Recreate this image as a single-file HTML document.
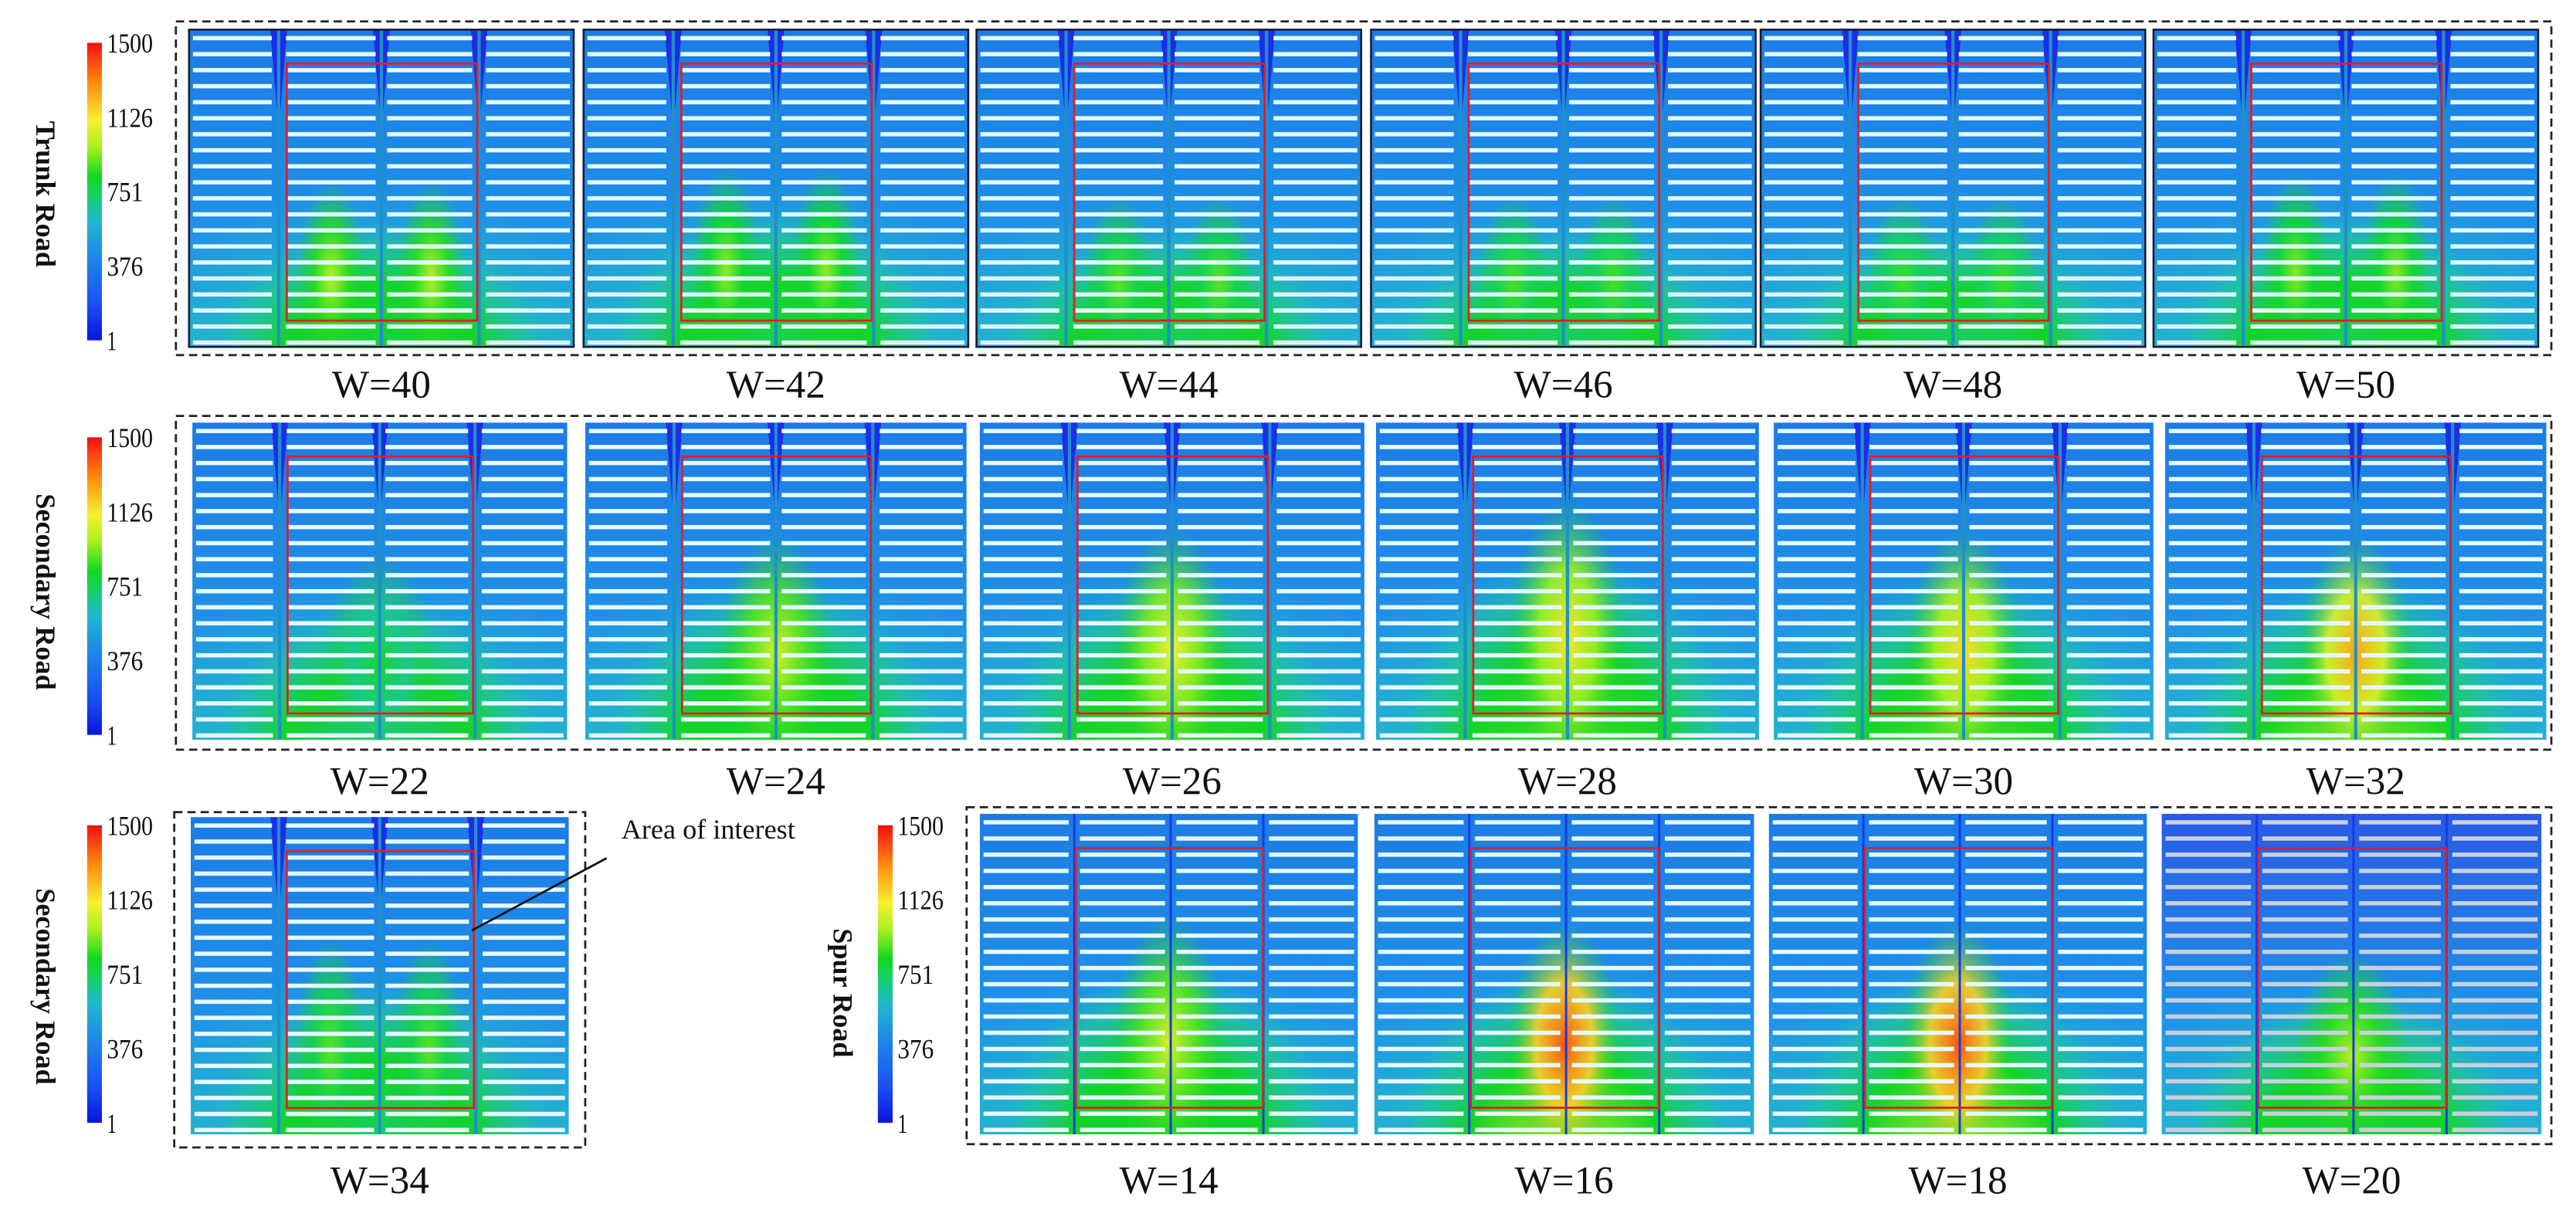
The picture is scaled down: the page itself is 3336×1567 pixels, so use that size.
<!DOCTYPE html>
<html><head><meta charset="utf-8"><style>
html,body{margin:0;padding:0;background:#fff;}
svg{display:block;}
text{font-family:"Liberation Serif",serif;}
</style></head><body>
<svg id="fig" width="3336" height="1567" viewBox="0 0 1567 736" xmlns="http://www.w3.org/2000/svg">
<defs id="defs"></defs>
</svg>
<script>
// ---- data ----
const panelLabels = ["W=40","W=42","W=44","W=46","W=48","W=50","W=22","W=24","W=26","W=28","W=30","W=32","W=34","W=14","W=16","W=18","W=20"];
const panelPeak   = [1000,950,900,880,870,940, 800,1050,1100,1130,1150,1250, 900, 1050,1380,1380,1000];
const panelHeatTop= [0.45,0.40,0.50,0.50,0.50,0.42, 0.40,0.32,0.30,0.20,0.30,0.32, 0.35, 0.28,0.30,0.30,0.40];
const panelMode   = ["twin","twin","twin","twin","twin","twin","center","center","center","center","center","center","twin","center","center","center","center"];
const cbTicks = [1500,1126,751,376,1];
const cbMin = 1, cbMax = 1500;
const rowTitles = ["Trunk Road","Secondary Road","Secondary Road","Spur Road"];

// ---- geometry ----
const NS="http://www.w3.org/2000/svg";
const svg=document.getElementById('fig');
const defs=document.getElementById('defs');
function mk(tag,attrs,parent){const e=document.createElementNS(NS,tag);for(const k in attrs)e.setAttribute(k,attrs[k]);(parent||svg).appendChild(e);return e;}
const panelGeom=[
 [115,18,234,193],[355,18,234,193],[594,18,234,193],[834,18,234,193],[1071,18,234,193],[1310,18,234,193],
 [117,257,228,193],[356,257,232,193],[596,257,234,193],[837,257,233,193],[1079,257,231,193],[1317,257,232,193],
 [116,497,230,193],
 [596,495,230,195],[836,495,231,195],[1076,495,230,195],[1315,495,231,195]
];
const cmap=[[0,'#0a14e0'],[0.12,'#1a50f0'],[0.28,'#1e88e8'],[0.40,'#20b8d0'],[0.48,'#18d070'],[0.55,'#10d820'],[0.65,'#a8f020'],[0.74,'#f8f030'],[0.86,'#ff9010'],[1,'#f01010']];
function hex(c){return [parseInt(c.substr(1,2),16),parseInt(c.substr(3,2),16),parseInt(c.substr(5,2),16)];}
function colorOf(v){const t=Math.max(0,Math.min(1,(v-cbMin)/(cbMax-cbMin)));
 for(let i=1;i<cmap.length;i++){if(t<=cmap[i][0]){const a=cmap[i-1],b=cmap[i];const f=(t-a[0])/(b[0]-a[0]);const A=hex(a[1]),B=hex(b[1]);return 'rgb('+A.map((x,j)=>Math.round(x+(B[j]-x)*f)).join(',')+')';}}
 return cmap[cmap.length-1][1];}

// dashed group boxes
[[107,13,1445,203],[107,253,1445,203],[106,494,250,204],[588,491,964,205]].forEach((b,i)=>{
 const r=mk('rect',{x:b[0],y:b[1],width:b[2],height:b[3],fill:'none',stroke:'#222','stroke-width':1.3,'stroke-dasharray':'5,3'});
 
 
});

panelLabels.forEach((lab,i)=>{
 const [x,y,w,h]=panelGeom[i];
 const g=mk('g',{});
 
 
 const cp=mk('clipPath',{id:'cp'+i},defs);mk('rect',{x:x,y:y,width:w,height:h},cp);
 const inner=mk('g',{'clip-path':'url(#cp'+i+')'},g);
 const spur=i>=13, grey=i===16;
 // background
 const bg=mk('linearGradient',{id:'bg'+i,x1:0,y1:0,x2:0,y2:1},defs);
 mk('stop',{offset:0,'stop-color':grey?'#2a5ae8':'#1c7ce6'},bg);
 mk('stop',{offset:0.6,'stop-color':'#1f90e8'},bg);
 mk('stop',{offset:1,'stop-color':'#24acdc'},bg);
 mk('rect',{x:x,y:y,width:w,height:h,fill:'url(#bg'+i+')'},inner);
 const ht=panelHeatTop[i], pk=panelPeak[i];
 // broad outer spread
 const og=mk('radialGradient',{id:'og'+i,cx:0.5,cy:1,r:0.65},defs);
 mk('stop',{offset:0,'stop-color':'#1cc8a0','stop-opacity':0.95},og);
 mk('stop',{offset:0.6,'stop-color':'#20c0b8','stop-opacity':0.5},og);
 mk('stop',{offset:1,'stop-color':'#20b8c8','stop-opacity':0},og);
 mk('rect',{x:x,y:y+h*ht*0.5,width:w,height:h*(1-ht*0.5),fill:'url(#og'+i+')'},inner);
 // green body
 const gg=mk('radialGradient',{id:'gg'+i,cx:0.5,cy:0.8,r:0.55},defs);
 mk('stop',{offset:0,'stop-color':colorOf(pk*0.78),'stop-opacity':1},gg);
 mk('stop',{offset:0.6,'stop-color':'#14d428','stop-opacity':1},gg);
 mk('stop',{offset:0.85,'stop-color':'#20c890','stop-opacity':0.6},gg);
 mk('stop',{offset:1,'stop-color':'#20c0b0','stop-opacity':0},gg);
 mk('ellipse',{cx:x+w*0.5,cy:y+h*(ht+(1-ht)*0.7),rx:w*0.42,ry:h*(1-ht)*0.85,fill:'url(#gg'+i+')'},inner);
 // hot core(s)
 const cg=mk('radialGradient',{id:'cg'+i,cx:0.5,cy:0.5,r:0.5},defs);
 mk('stop',{offset:0,'stop-color':colorOf(pk),'stop-opacity':1},cg);
 mk('stop',{offset:0.5,'stop-color':colorOf(pk*0.85),'stop-opacity':0.9},cg);
 mk('stop',{offset:1,'stop-color':'#20d020','stop-opacity':0},cg);
 const cores=panelMode[i]==='twin'?[0.37,0.63]:[0.5];
 cores.forEach(cx=>{
  mk('ellipse',{cx:x+w*cx,cy:y+h*(ht+(1-ht)*0.6),rx:w*(panelMode[i]==='twin'?0.09:0.15),ry:h*(1-ht)*0.55,fill:'url(#cg'+i+')'},inner);
 });
 // roads
 const roadX=spur?[0.25,0.505,0.75]:[0.233,0.5,0.754];
 roadX.forEach(fx=>{
  const rx=x+w*fx;
  if(!spur){
   mk('polygon',{points:(rx-w*0.022)+','+y+' '+(rx+w*0.022)+','+y+' '+rx+','+(y+h*0.32),fill:'#1c2ee6'},inner);
   mk('line',{x1:rx,y1:y,x2:rx,y2:y+h,stroke:'#2090c8','stroke-width':2},inner);
  } else {
   mk('line',{x1:rx,y1:y,x2:rx,y2:y+h,stroke:'#1838e8','stroke-width':1.4},inner);
  }
 });
 // stripes
 const segs=spur?[[0.01,0.235],[0.265,0.49],[0.52,0.735],[0.765,0.99]]:[[0.01,0.215],[0.252,0.485],[0.515,0.736],[0.772,0.99]];
 for(let k=0;k<20;k++){
  const sy=y+h*(0.02+k*0.0505);
  segs.forEach(s=>mk('rect',{x:x+w*s[0],y:sy,width:w*(s[1]-s[0]),height:2.6,fill:grey?'#c8d0dc':'#e6f8ff'},inner));
 }
 // area of interest
 const rr=mk('rect',{x:x+w*0.254,y:y+h*0.107,width:w*0.495,height:h*0.81,fill:'none',stroke:'#e41c24','stroke-width':1.3},g);
 
 
 if(i<6) mk('rect',{x:x,y:y,width:w,height:h,fill:'none',stroke:'#1a1a30','stroke-width':1.2},g);
 const t=mk('text',{x:x+w/2,y:(i<6?242:(i<12?483:726)),'font-size':24,'text-anchor':'middle',fill:'#111'},g);
 t.textContent=lab;
 
 
});

// colorbars
const cbg=mk('linearGradient',{id:'cbg',x1:0,y1:1,x2:0,y2:0},defs);
cmap.forEach(s=>mk('stop',{offset:s[0],'stop-color':s[1]},cbg));
[[53,26],[53,266],[53,502],[534,502]].forEach((c,j)=>{
 const g=mk('g',{});
 
 
 const top=c[1],hgt=181;
 mk('rect',{x:c[0],y:top,width:9,height:hgt,fill:'url(#cbg)'},g);
 cbTicks.forEach(v=>{
  const ty=top+hgt*(1-(v-cbMin)/(cbMax-cbMin));
  const t=mk('text',{x:c[0]+12,y:ty+6,'font-size':17,fill:'#111',textLength:v>=1000?28:(v>=100?22:6),lengthAdjust:'spacingAndGlyphs'},g);
  t.textContent=v;
  
  
 });
});
// row titles
[[17,118],[17,360],[17,600],[502,604]].forEach((p,j)=>{
 const t=mk('text',{x:p[0],y:p[1],'font-size':17,'font-weight':'bold','text-anchor':'middle',transform:'rotate(90 '+p[0]+' '+p[1]+')',fill:'#111',dy:-5});
 t.textContent=rowTitles[j];
 
 
});
// annotation
const an=mk('text',{x:378,y:510,'font-size':17,fill:'#111'});
an.textContent='Area of interest';


const al=mk('line',{x1:369,y1:522,x2:287,y2:566,stroke:'#111','stroke-width':1.3});


</script>
</body></html>
